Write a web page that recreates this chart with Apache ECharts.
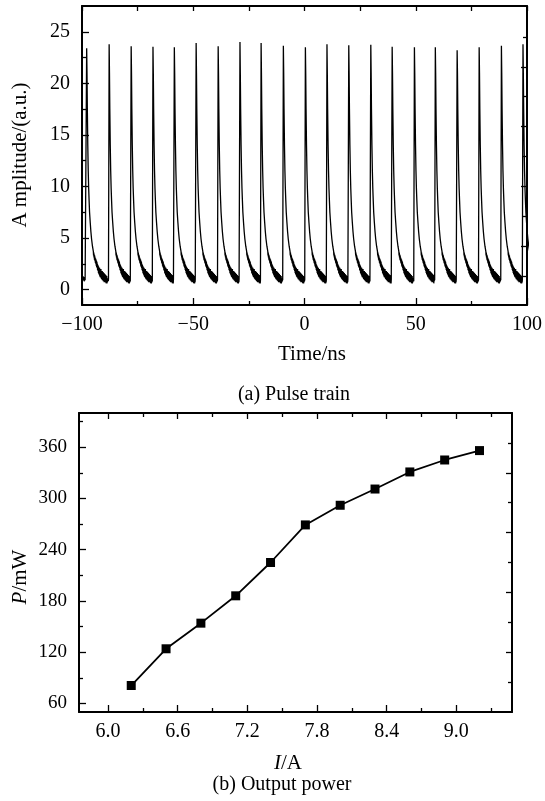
<!DOCTYPE html>
<html>
<head>
<meta charset="utf-8">
<script src="https://cdn.jsdelivr.net/npm/echarts@6/dist/echarts.min.js"></script>
<style>
html,body{margin:0;padding:0;background:#fff;}
#c{width:545px;height:801px;}
</style>
</head>
<body>
<div id="c"></div>
<script>
// ---- (a) Pulse train ----
const peakTimes = [-97.9, -87.8, -77.9, -68.1, -58.5, -48.7, -38.8, -29.0, -19.5, -9.5, 0.4,
                   10.1, 19.9, 29.8, 39.4, 49.4, 58.8, 68.6, 78.5, 88.5, 98.2];
const peakHeights = [23.4, 23.8, 23.6, 23.55, 23.5, 23.9, 23.6, 24.0, 23.9, 23.65, 23.5,
                     23.8, 23.7, 23.75, 23.55, 23.5, 23.5, 23.2, 23.5, 23.65, 23.8];
// one pulse profile (offset ns from peak, amplitude)
const profileOffsets = [-0.3, 0, 0.15, 0.3, 0.5, 0.7, 0.9, 1.1, 1.3, 1.6, 1.9, 2.2, 2.6,
  3.0, 3.1, 3.2, 3.3, 3.4, 3.5, 3.6, 3.7, 3.8, 3.9, 4.0, 4.1, 4.2, 4.3, 4.4, 4.5, 4.6, 4.7, 4.8, 4.9,
  5.0, 5.1, 5.2, 5.3, 5.4, 5.5, 5.6, 5.7, 5.8, 5.9, 6.0, 6.1, 6.2, 6.3, 6.4, 6.5, 6.6, 6.7, 6.8, 6.9,
  7.0, 7.1, 7.2, 7.3, 7.4, 7.5, 7.6, 7.7, 7.8, 7.9, 8.0, 8.1, 8.2, 8.3, 8.4, 8.5, 8.6, 8.7, 8.8, 8.9,
  9.0, 9.1, 9.2, 9.3, 9.4, 9.5, 9.6, 9.7, 9.8];
const profileValues = [0.9, null, 21, 17.5, 14, 11.5, 9.8, 8.6, 7.5, 6.5, 5.6, 4.9, 4.2,
  3.7, 3.3, 3.6, 3.1, 3.4, 2.9, 3.3, 2.8, 3.1, 2.6, 3.0, 2.5, 2.9, 2.3, 2.8, 2.2, 2.7, 2.1, 2.5, 1.9,
  2.4, 1.8, 2.3, 1.6, 2.2, 1.5, 2.0, 1.4, 2.1, 1.3, 1.9, 1.2, 1.8, 1.3, 2.0, 1.1, 1.7, 1.0, 1.6, 1.2,
  1.8, 0.9, 1.5, 1.1, 1.7, 0.8, 1.4, 1.0, 1.6, 0.7, 1.3, 0.9, 1.5, 0.7, 1.2, 0.9, 1.4, 0.6, 1.1, 0.8,
  1.3, 0.6, 1.0, 0.7, 1.0, 0.8, 1.1, 0.8, 1.0];
const leadTimes = [-100, -99.8, -99.6, -99.4, -99.2, -99.0, -98.8, -98.6];
const leadValues = [1.2, 0.8, 1.3, 0.9, 1.2, 0.8, 1.1, 0.9];
const yTicksA = [0, 5, 10, 15, 20, 25];
const yMinorA = [2.5, 7.5, 12.5, 17.5, 22.5];
const yRightMajorA = [4.2, 10.0, 15.8, 21.6];
const yRightMinorA = [1.3, 7.1, 12.9, 18.7, 24.5];

// ---- (b) Output power ----
const currentA = [6.2, 6.5, 6.8, 7.1, 7.4, 7.7, 8.0, 8.3, 8.6, 8.9, 9.2];
const powerMW = [81, 124, 154, 186, 225, 269, 292, 311, 331, 345, 356];
const xTicksB = [6.0, 6.6, 7.2, 7.8, 8.4, 9.0];
const xMinorB = [6.3, 6.9, 7.5, 8.1, 8.7, 9.3];
const yTicksB = [60, 120, 180, 240, 300, 360];
const yMinorB = [90, 150, 210, 270, 330, 390];
const yRightMajorB = [120.2, 190.1, 260.0, 329.3];
const yRightMinorB = [85.2, 155.1, 225.1, 295.0, 364.3];

// build pulse trace
const trace = [];
for (let i = 0; i < leadTimes.length; i++) trace.push([leadTimes[i], leadValues[i]]);
for (let i = 0; i < peakTimes.length; i++) {
  const t0 = peakTimes[i];
  const next = i + 1 < peakTimes.length ? peakTimes[i + 1] : 200;
  for (let k = 0; k < profileOffsets.length; k++) {
    const t = t0 + profileOffsets[k];
    if (profileOffsets[k] > 0 && t >= next - 0.3) break;
    trace.push([t, profileValues[k] === null ? peakHeights[i] : profileValues[k]]);
  }
}
const pts = currentA.map((x, i) => [x, powerMW[i]]);

const FONT = 'Liberation Serif, Times New Roman, serif';
const BLK = '#000';
const lineSty = {show: true, onZero: false, lineStyle: {color: BLK, width: 2}};
const noLine = {show: false, onZero: false};
const lbl = {color: BLK, fontFamily: FONT, fontSize: 20};
const lblB = {color: BLK, fontFamily: FONT, fontSize: 19};

function tickAxis(base, values, len, showLine) {
  return Object.assign({
    type: 'value', splitLine: {show: false},
    axisLine: showLine ? lineSty : noLine,
    axisLabel: {show: false},
    axisTick: {show: true, inside: true, length: len, customValues: values, lineStyle: {color: BLK, width: 1.3}}
  }, base);
}

const chart = echarts.init(document.getElementById('c'), null, {renderer: 'canvas'});
chart.setOption({
  animation: false,
  backgroundColor: '#fff',
  grid: [
    {left: 82, top: 6, width: 455, height: 299},
    {left: 79, top: 413, width: 433, height: 299}
  ],
  xAxis: [
    {gridIndex: 0, type: 'value', position: 'bottom', min: -100, max: 100, interval: 50,
     splitLine: {show: false}, axisLine: lineSty,
     axisTick: {show: true, inside: true, length: 7, lineStyle: {color: BLK, width: 1.3}},
     minorTick: {show: true, splitNumber: 2, length: 4, lineStyle: {color: BLK, width: 1.3}},
     axisLabel: Object.assign({margin: 10, showMinLabel: true, showMaxLabel: true,
       formatter: v => v < 0 ? '\u2212' + Math.abs(v) : String(v)}, lbl)},
    {gridIndex: 0, type: 'value', position: 'top', min: -100, max: 100, interval: 50,
     splitLine: {show: false}, axisLine: lineSty,
     axisTick: {show: true, inside: true, length: 5, lineStyle: {color: BLK, width: 1.3}},
     minorTick: {show: true, splitNumber: 2, length: 5, lineStyle: {color: BLK, width: 1.3}},
     axisLabel: {show: false}},
    Object.assign(tickAxis({gridIndex: 1, position: 'bottom', min: 5.75, max: 9.48}, xTicksB, 7, true),
      {axisLabel: Object.assign({show: true, margin: 10, customValues: xTicksB, formatter: v => v.toFixed(1)}, lbl)}),
    tickAxis({gridIndex: 1, position: 'bottom', min: 5.75, max: 9.48}, xMinorB, 4, false),
    tickAxis({gridIndex: 1, position: 'top', min: 5.75, max: 9.48}, xTicksB, 6, true),
    tickAxis({gridIndex: 1, position: 'top', min: 5.75, max: 9.48}, xMinorB, 4, false)
  ],
  yAxis: [
    Object.assign(tickAxis({gridIndex: 0, position: 'left', min: -1.5, max: 27.5}, yTicksA, 7, true),
      {axisLabel: Object.assign({show: true, margin: 12, customValues: yTicksA}, lbl)}),
    tickAxis({gridIndex: 0, position: 'left', min: -1.5, max: 27.5}, yMinorA, 4, false),
    tickAxis({gridIndex: 0, position: 'right', min: -1.5, max: 27.5}, yRightMajorA, 6, true),
    tickAxis({gridIndex: 0, position: 'right', min: -1.5, max: 27.5}, yRightMinorA, 4, false),
    Object.assign(tickAxis({gridIndex: 1, position: 'left', min: 50, max: 400}, yTicksB, 7, true),
      {axisLabel: Object.assign({show: true, margin: 12, customValues: yTicksB}, lblB)}),
    tickAxis({gridIndex: 1, position: 'left', min: 50, max: 400}, yMinorB, 4, false),
    tickAxis({gridIndex: 1, position: 'right', min: 50, max: 400}, yRightMajorB, 6, true),
    tickAxis({gridIndex: 1, position: 'right', min: 50, max: 400}, yRightMinorB, 4, false)
  ],
  series: [
    {type: 'line', xAxisIndex: 0, yAxisIndex: 0, data: trace, showSymbol: false, symbol: 'none',
     lineStyle: {color: BLK, width: 1.3}, clip: true},
    {type: 'line', xAxisIndex: 2, yAxisIndex: 4, data: pts, symbol: 'rect', symbolSize: 9,
     itemStyle: {color: BLK}, lineStyle: {color: BLK, width: 1.8}}
  ],
  graphic: [
    {type: 'text', x: 20, y: 155, rotation: Math.PI / 2,
     style: {text: 'A mplitude/(a.u.)', font: '21px ' + FONT, fill: BLK, align: 'center', verticalAlign: 'middle'}},
    {type: 'text', x: 312, y: 354,
     style: {text: 'Time/ns', font: '21px ' + FONT, fill: BLK, align: 'center', verticalAlign: 'middle'}},
    {type: 'text', x: 294, y: 395,
     style: {text: '(a) Pulse train', font: '20px ' + FONT, fill: BLK, align: 'center', verticalAlign: 'middle'}},
    {type: 'text', x: 20, y: 577, rotation: Math.PI / 2,
     style: {text: '{i|P}/mW', font: '21px ' + FONT, fill: BLK, align: 'center', verticalAlign: 'middle',
       rich: {i: {fontStyle: 'italic', fontFamily: FONT, fontSize: 21, fill: BLK}}}},
    {type: 'text', x: 288, y: 763,
     style: {text: '{i|I}/A', font: '21px ' + FONT, fill: BLK, align: 'center', verticalAlign: 'middle',
       rich: {i: {fontStyle: 'italic', fontFamily: FONT, fontSize: 21, fill: BLK}}}},
    {type: 'text', x: 282, y: 785,
     style: {text: '(b) Output power', font: '20px ' + FONT, fill: BLK, align: 'center', verticalAlign: 'middle'}}
  ]
});
</script>
</body>
</html>
